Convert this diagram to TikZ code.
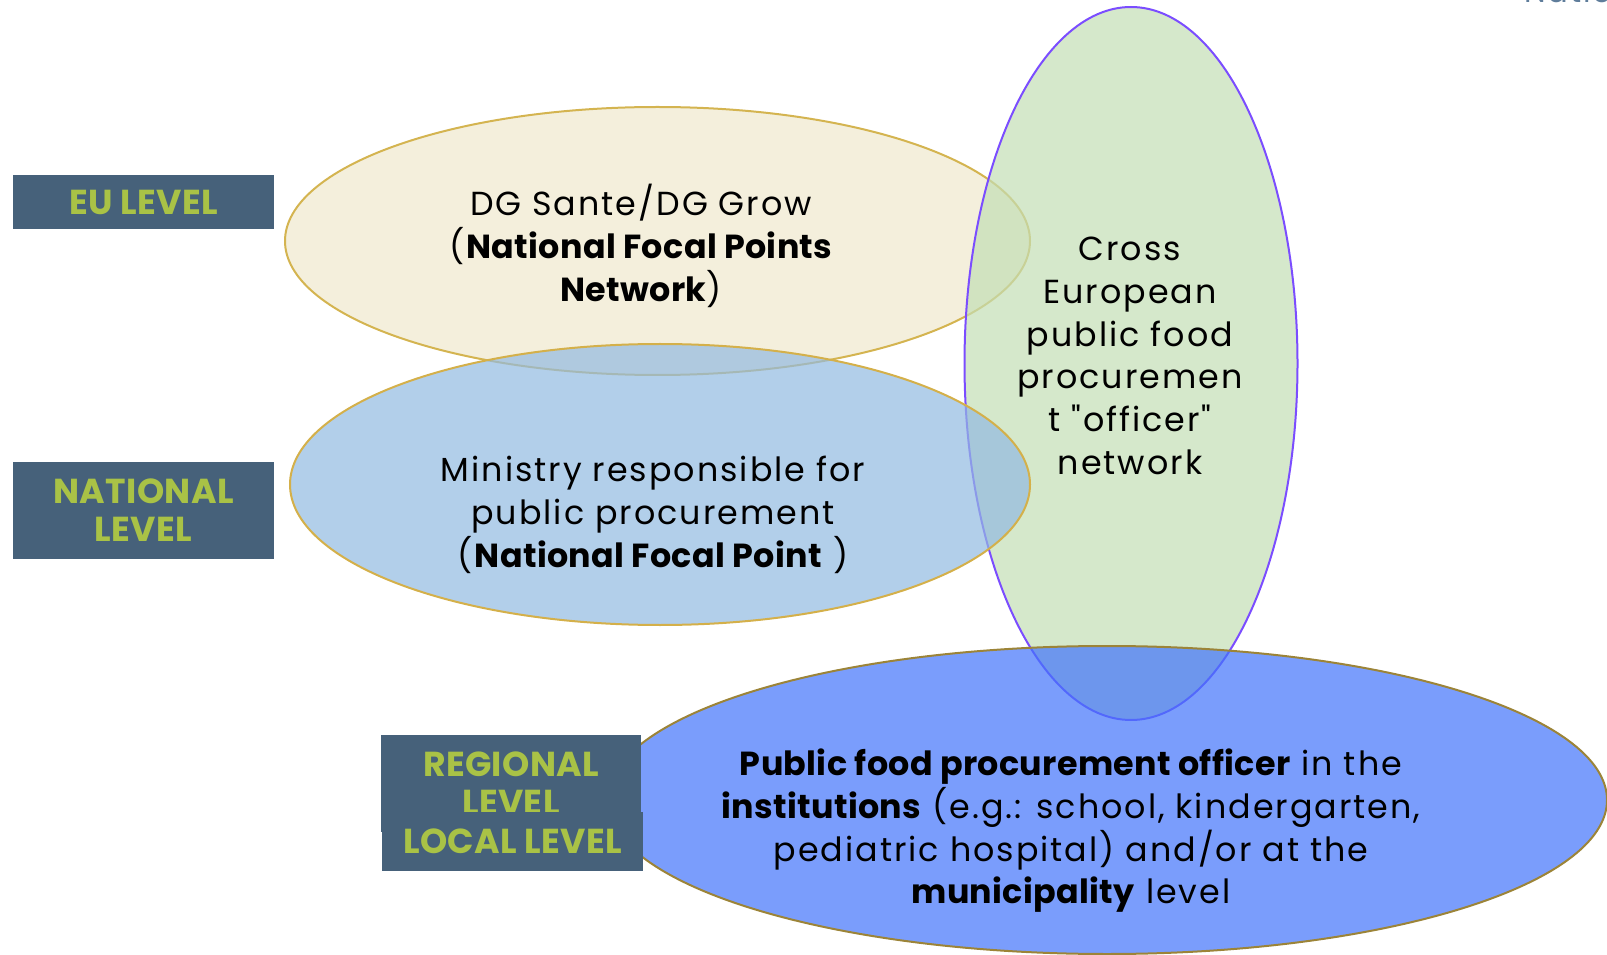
\documentclass[tikz,border=0pt]{standalone}
\usepackage{fontspec}
\setmainfont{Poppins}[Ligatures=TeXOff, LetterSpace=6, BoldFeatures={LetterSpace=1}]
\usetikzlibrary{positioning}

\definecolor{lvlbox}{RGB}{70,97,122}
\definecolor{lvltext}{RGB}{169,194,70}
\definecolor{eufill}{RGB}{244,239,220}
\definecolor{euedge}{RGB}{212,180,80}
\definecolor{natfill}{RGB}{146,186,225}
\definecolor{natedge}{RGB}{212,176,74}
\definecolor{crossfill}{RGB}{195,222,181}
\definecolor{crossedge}{RGB}{123,77,255}
\definecolor{locfill}{RGB}{66,116,251}
\definecolor{locedge}{RGB}{156,132,56}
\definecolor{cutgray}{RGB}{95,125,155}

\tikzset{every picture/.style={line width=0.75pt}}
\tikzset{
  lvltag/.style={fill=lvlbox, text=lvltext, align=center, inner sep=0pt,
    font=\bfseries\fontsize{26}{28.5}\selectfont},
  bodytxt/.style={align=center, font=\fontsize{25}{32}\selectfont},
  blob/.style={line width=1.5pt, fill opacity=0.7}
}

\begin{document}
\begin{tikzpicture}[x=0.75pt,y=0.75pt,yscale=-1,xscale=1]
\useasboundingbox (0,0) rectangle (1607,955);

%Shape: Ellipse [EU level]
\draw [blob, color=euedge, fill=eufill, fill opacity=1] (657.5,241) ellipse [x radius=372.5, y radius=134];
%Shape: Ellipse [cross European network]
\draw [blob, color=crossedge, fill=crossfill] (1131,363.5) ellipse [x radius=166.5, y radius=356.5];
%Shape: Ellipse [national level]
\draw [blob, color=natedge, fill=natfill] (660,484.5) ellipse [x radius=370, y radius=140.5];
%Shape: Ellipse [regional / local level]
\draw [blob, color=locedge, fill=locfill] (1107,800) ellipse [x radius=500, y radius=154];

%Level tags
\node [lvltag, minimum width=195.75pt, minimum height=40.5pt] (eutag) at (143.5,202) {EU LEVEL};
\node [lvltag, minimum width=195.75pt, minimum height=72.75pt] (nattag) at (143.5,510.5) {NATIONAL\\LEVEL};
\node [lvltag, minimum width=195pt, minimum height=72.75pt] (regtag) at (511,783.5) {REGIONAL\\LEVEL};
\node [lvltag, minimum width=195.75pt, minimum height=44.25pt] (loctag) at (512.5,841.5) {LOCAL LEVEL};

% Text Node
\node [bodytxt] (dgtxt) at (641,246) {DG Sante/DG Grow\\(\textbf{National Focal Points}\\\textbf{Network})};
% Text Node
\node [bodytxt] (mintxt) at (653,515) {Ministry responsible for\\public procurement\\(\textbf{National Focal Point} )};
% Text Node
\node [bodytxt] (crosstxt) at (1130,356) {Cross\\European\\public food\\procuremen\\t "officer"\\network};
% Text Node
\node [bodytxt] (offtxt) at (1071,831) {\textbf{Public food procurement officer} in the\\\textbf{institutions} (e.g.: school, kindergarten,\\pediatric hospital) and/or at the\\\textbf{municipality} level};
% Text Node
\node [anchor=base west, text=cutgray, font=\fontsize{23}{28}\selectfont, inner sep=0pt] (cuttxt) at (1524,3) {Natio};

\end{tikzpicture}
\end{document}
